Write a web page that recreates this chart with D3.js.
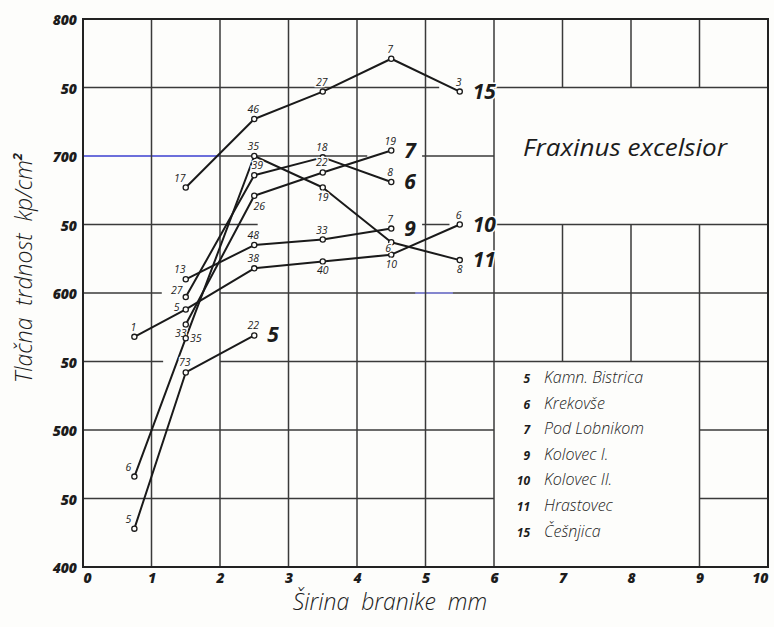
<!DOCTYPE html>
<html><head><meta charset="utf-8">
<script src="https://cdn.jsdelivr.net/npm/d3@7"></script>
<style>
html,body{margin:0;padding:0;background:#fdfdfb;}
svg{display:block;}
text{font-family:"Open Sans","DejaVu Sans",sans-serif;font-style:italic;fill:#1c1c1c;}
</style></head>
<body>
<div id="chart"></div>
<script>
// ---- data ----
const widths = [0.75, 1.5, 2.5, 3.5, 4.5, 5.5];           // Širina branike (mm)
const seriesIds = ["5", "6", "7", "9", "10", "11", "15"];
const seriesNames = ["Kamn. Bistrica", "Krekovše", "Pod  Lobnikom", "Kolovec I.", "Kolovec II.", "Hrastovec", "Češnjica"];
const kamnBistrica = [428, 542, 569, null, null, null];
const krekovse     = [null, 597, 686, 699, 681, null];
const podLobnikom  = [null, 577, 671, 688, 704, null];
const kolovecI     = [null, 610, 635, 639, 647, null];
const kolovecII    = [568, 588, 618, 623, 628, 650];
const hrastovec    = [466, 567, 700, 677, 637, 624];
const cesnjica     = [null, 677, 727, 747, 771, 747];
// sample counts written next to each point
const nKamnBistrica = [5, 73, 22, null, null, null];
const nKrekovse     = [null, 27, 39, 18, 8, null];
const nPodLobnikom  = [null, 33, 26, 22, 19, null];
const nKolovecI     = [null, 13, 48, 33, 7, null];
const nKolovecII    = [1, 5, 38, 40, 10, 6];
const nHrastovec    = [6, 35, 35, 19, 6, 8];
const nCesnjica     = [null, 17, 46, 27, 7, 3];
const yTickValues = [400, 450, 500, 550, 600, 650, 700, 750, 800];
const yTickLabels = ["400", "50", "500", "50", "600", "50", "700", "50", "800"];
const xTickValues = [0, 1, 2, 3, 4, 5, 6, 7, 8, 9, 10];
const xTickLabels = ["0", "1", "2", "3", "4", "5", "6", "7", "8", "9", "10"];
const title = "Fraxinus excelsior";
const xTitle = "Širina  branike  mm";
const yTitle = "Tlačna  trdnost  kp/cm";

// ---- layout / style (not data) ----
const W = 774, H = 627;
const M = {l: 83, r: 768, t: 19, b: 567};
const labelPlace = {   // placement of count labels per series
  "5":  ["al", "a", "a"],
  "6":  [null, "lu", "ar", "a", "a"],
  "7":  [null, "bl", "br", "a", "a"],
  "9":  [null, "al", "a", "a", "a"],
  "10": ["a", "ld", "a", "b", "b", "a"],
  "11": ["al", "r", "a", "b", "bs", "b"],
  "15": [null, "al", "a", "a", "a", "a"]
};
const hGrid = [ // value, from, to (in data units)
  [750, 0, 5.2], [750, 6, 10],
  [700, 2, 4.15], [700, 4.95, 6],
  [650, 0, 2.55], [650, 4.95, 5.35], [650, 6, 10],
  [600, 0, 1.15], [600, 2, 10],
  [550, 0, 1.17], [550, 2, 10],
  [500, 0, 6], [500, 9, 10],
  [450, 0, 6], [450, 9, 10]
];
const vGrid = [ // x, from, to
  [1, 400, 800], [2, 400, 800], [3, 400, 800], [4, 400, 800], [5, 400, 800], [6, 400, 800],
  [7, 750, 800], [7, 550, 650], [8, 750, 800], [8, 550, 650], [9, 750, 800], [9, 400, 650]
];

const series = [
  {id: "5", v: kamnBistrica, n: nKamnBistrica},
  {id: "6", v: krekovse, n: nKrekovse},
  {id: "7", v: podLobnikom, n: nPodLobnikom},
  {id: "9", v: kolovecI, n: nKolovecI},
  {id: "10", v: kolovecII, n: nKolovecII},
  {id: "11", v: hrastovec, n: nHrastovec},
  {id: "15", v: cesnjica, n: nCesnjica}
];

const svg = d3.select("#chart").append("svg").attr("width", W).attr("height", H);
svg.append("rect").attr("width", W).attr("height", H).attr("fill", "#fdfdfb");

const x = d3.scaleLinear().domain([0, 10]).range([M.l, M.r]);
const y = d3.scaleLinear().domain([400, 800]).range([M.b, M.t]);

const grid = svg.append("g").attr("stroke", "#3a3a3a").attr("stroke-width", 1.5);
hGrid.forEach(([v, a, b]) => grid.append("line")
  .attr("x1", x(a)).attr("x2", x(b)).attr("y1", y(v)).attr("y2", y(v)));
// blue pencil sections
grid.append("line").attr("x1", x(0)).attr("x2", x(2)).attr("y1", y(700)).attr("y2", y(700))
  .attr("stroke", "#3b3fd0");
grid.append("line").attr("x1", x(4.85)).attr("x2", x(5.4)).attr("y1", y(600)).attr("y2", y(600))
  .attr("stroke", "#8c8ff0");
vGrid.forEach(([v, a, b]) => grid.append("line")
  .attr("x1", x(v)).attr("x2", x(v)).attr("y1", y(a)).attr("y2", y(b)));
svg.append("rect").attr("x", x(0)).attr("y", y(800)).attr("width", x(10) - x(0)).attr("height", y(400) - y(800))
  .attr("fill", "none").attr("stroke", "#222").attr("stroke-width", 2);

// axes (tick labels only, like the original)
const yAxis = d3.axisLeft(y).tickValues(yTickValues).tickSize(0).tickPadding(6)
  .tickFormat((d, i) => yTickLabels[i]);
const gy = svg.append("g").attr("transform", `translate(${x(0)},0)`).call(yAxis);
gy.select(".domain").remove();
gy.selectAll("text").attr("font-size", 14).attr("font-weight", 800).attr("font-style", "italic")
  .attr("font-family", "'Open Sans', sans-serif").attr("fill", d => d === 700 ? "#2d2f9a" : "#1c1c1c")
  .attr("dy", "0.42em");

const xAxis = d3.axisBottom(x).tickValues(xTickValues).tickSize(0).tickPadding(6)
  .tickFormat((d, i) => xTickLabels[i]);
const gx = svg.append("g").attr("transform", `translate(0,${y(400)})`).call(xAxis);
gx.select(".domain").remove();
gx.selectAll("text").attr("font-size", 14).attr("font-weight", 800).attr("font-style", "italic")
  .attr("font-family", "'Open Sans', sans-serif").attr("fill", "#1c1c1c")
  .attr("text-anchor", d => d === 10 ? "end" : d === 0 ? "start" : "middle");

// lines
const line = d3.line().defined(d => d.v != null).x(d => x(d.w)).y(d => y(d.v));
const gLines = svg.append("g");
series.forEach(s => {
  const pts = widths.map((w, i) => ({w, v: s.v[i], n: s.n[i]}));
  gLines.append("path").datum(pts).attr("d", line).attr("fill", "none")
    .attr("stroke", "#1a1a1a").attr("stroke-width", 2).attr("stroke-linejoin", "round");
});
const off = {a: [-1, -6], al: [-6, -6], ar: [3, -6], b: [0, 13], bs: [-3, 10], bl: [-5, 12], br: [5, 14],
             l: [-9, -1], lu: [-9, -3], ld: [-9, 2], r: [10, 4]};
series.forEach(s => {
  const pts = widths.map((w, i) => ({w, v: s.v[i], n: s.n[i], i})).filter(d => d.v != null);
  const g = svg.append("g");
  g.selectAll("circle").data(pts).join("circle")
    .attr("cx", d => x(d.w)).attr("cy", d => y(d.v)).attr("r", 2.6)
    .attr("fill", "#fdfdfb").attr("stroke", "#1a1a1a").attr("stroke-width", 1.3);
  g.selectAll("text").data(pts).join("text")
    .attr("x", d => x(d.w) + off[labelPlace[s.id][d.i]][0])
    .attr("y", d => y(d.v) + off[labelPlace[s.id][d.i]][1])
    .attr("text-anchor", "middle").attr("font-size", 10.5)
    .attr("stroke", "#fdfdfb").attr("stroke-width", 2.5).attr("paint-order", "stroke")
    .text(d => d.n);
  const last = pts[pts.length - 1];
  svg.append("text").attr("x", x(last.w) + 13).attr("y", y(last.v) + 7)
    .attr("font-size", 21).attr("font-weight", 700)
    .attr("stroke", "#fdfdfb").attr("stroke-width", 3).attr("paint-order", "stroke")
    .text(s.id);
});

// title
svg.append("text").attr("x", 523).attr("y", 156).attr("font-size", 24).attr("font-weight", 400)
  .attr("textLength", 204).attr("lengthAdjust", "spacingAndGlyphs").text(title);

// legend
const leg = svg.append("g");
seriesIds.forEach((id, i) => {
  const yy = 383 + i * 25.6;
  leg.append("text").attr("x", 530).attr("y", yy).attr("text-anchor", "end")
    .attr("font-size", 12).attr("font-weight", 700).text(id);
  leg.append("text").attr("x", 544).attr("y", yy).attr("font-size", 16).attr("font-weight", 300)
    .text(seriesNames[i]);
});

// axis titles
svg.append("text").attr("x", 390).attr("y", 610).attr("text-anchor", "middle")
  .attr("font-size", 23).attr("font-weight", 300).attr("xml:space", "preserve").text(xTitle);
const yt = svg.append("text").attr("transform", "translate(32,268) rotate(-90)")
  .attr("text-anchor", "middle").attr("font-size", 23).attr("font-weight", 300)
  .attr("xml:space", "preserve");
yt.append("tspan").text(yTitle);
yt.append("tspan").attr("dy", -10).attr("font-size", 13).attr("font-weight", 700).text("2");
</script>
</body></html>
